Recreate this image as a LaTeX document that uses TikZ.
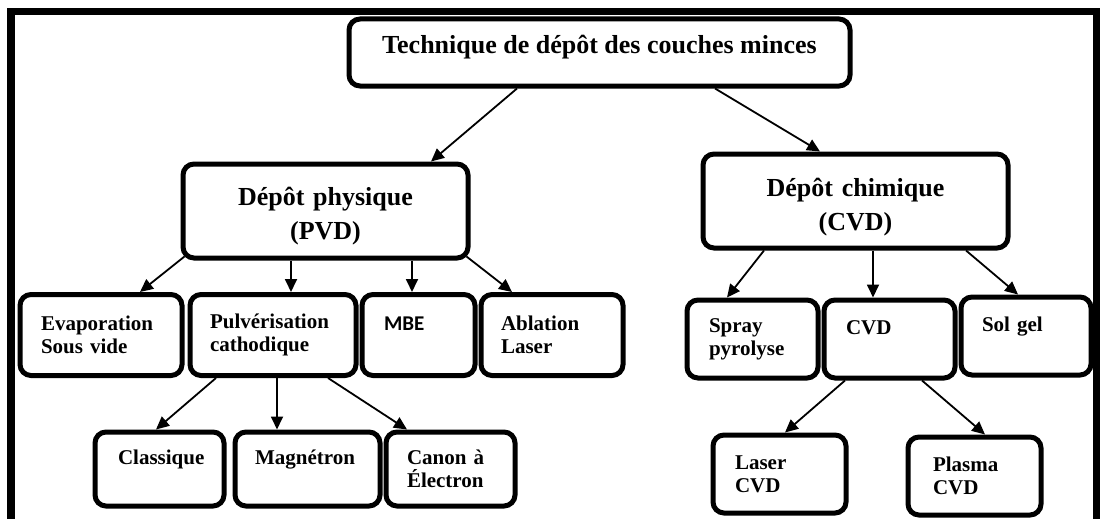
\documentclass[tikz,border=0pt]{standalone}
\usepackage{fontspec}
\setmainfont{Liberation Serif}
\newfontfamily\mbefont{Carlito}
\usetikzlibrary{arrows.meta, positioning}

\begin{document}
\begin{tikzpicture}[x=1pt, y=-1pt,
    >={Triangle[length=13pt, width=12pt]},
    bloc/.style={draw, line width=5pt, rounded corners=11pt, inner sep=0pt},
    tete/.style={bloc, align=center, font=\fontsize{26}{34}\selectfont\bfseries},
    feuille/.style={bloc, align=left, font=\fontsize{21}{23}\selectfont\bfseries},
    fleche/.style={->, line width=1.8pt}]
        \useasboundingbox (0,0) rectangle (1100,519);
        \draw[line width=7.5pt] (11,519) -- (11,11.5) -- (1096.5,11.5) -- (1096.5,519);

        \node[tete, minimum width=501pt, minimum height=67pt, text depth=16pt] (tech) at (599.5, 52.5) {Technique de dépôt des couches minces};
        \node[tete, minimum width=285pt, minimum height=94pt, text width=250pt, text depth=29.5pt] (phys) at (325.5, 211) {Dépôt physique\\(PVD)};
        \node[tete, minimum width=305pt, minimum height=94pt, text width=250pt, text depth=28pt] (chim) at (855.5, 201) {Dépôt chimique\\(CVD)};

        \node[feuille, minimum width=162pt, minimum height=81pt, text width=120pt] (evap) at (101, 335) {Evaporation\\Sous vide};
        \node[feuille, minimum width=166pt, minimum height=81pt, text width=126pt] (pulv) at (273, 335) {Pulvérisation\\cathodique};
        \node[feuille, minimum width=113pt, minimum height=81pt, text width=69pt] (mbe) at (418.5, 335) {{\mbefont MBE}\\\mbox{}};
        \node[feuille, minimum width=142pt, minimum height=81pt, text width=102pt] (abla) at (552, 335) {Ablation\\Laser};

        \node[feuille, minimum width=129pt, minimum height=74pt, text width=83pt] (clas) at (159.5, 469) {Classique\\\mbox{}};
        \node[feuille, minimum width=145pt, minimum height=74pt, text width=105pt] (magn) at (307.5, 469) {Magnétron\\\mbox{}};
        \node[feuille, minimum width=129pt, minimum height=74pt, text width=87pt] (canon) at (450.5, 469) {Canon à\\Électron};

        \node[feuille, minimum width=131pt, minimum height=78pt, text width=87pt] (spray) at (752.5, 339) {Spray\\pyrolyse};
        \node[feuille, minimum width=131pt, minimum height=78pt, text width=87pt] (cvd) at (889.5, 339) {CVD\\\mbox{}};
        \node[feuille, minimum width=130pt, minimum height=78pt, text width=88pt] (solgel) at (1026, 336) {Sol gel\\\mbox{}};

        \node[feuille, minimum width=133pt, minimum height=78pt, text width=89pt] (lasercvd) at (779.5, 474) {Laser\\CVD};
        \node[feuille, minimum width=133pt, minimum height=78pt, text width=83pt] (plasmacvd) at (974.5, 476) {Plasma\\CVD};

        \draw[fleche] ([xshift=-82.5pt]tech.south) to ([xshift=105.5pt]phys.north);
        \draw[fleche] ([xshift=115.5pt]tech.south) to ([xshift=-35.5pt]chim.north);

        \draw[fleche] ([shift={(4pt,4pt)}]phys.south west) to ([xshift=39pt]evap.north);
        \draw[fleche] ([xshift=-34.5pt]phys.south) to ([xshift=18pt]pulv.north);
        \draw[fleche] ([xshift=86.5pt]phys.south) to ([xshift=-6.5pt]mbe.north);
        \draw[fleche] ([shift={(-4pt,4pt)}]phys.south east) to ([xshift=-40pt]abla.north);

        \draw[fleche] ([xshift=-57pt]pulv.south) to ([xshift=-3.5pt]clas.north);
        \draw[fleche] ([xshift=4pt]pulv.south) to ([xshift=-30.5pt]magn.north);
        \draw[fleche] ([xshift=55pt]pulv.south) to ([xshift=-43.5pt]canon.north);

        \draw[fleche] ([xshift=-91.5pt]chim.south) to ([xshift=-25.5pt]spray.north);
        \draw[fleche] ([xshift=17.5pt]chim.south) to ([xshift=-16.5pt]cvd.north);
        \draw[fleche] ([xshift=110.5pt]chim.south) to ([xshift=-8pt]solgel.north);

        \draw[fleche] ([xshift=-44.5pt]cvd.south) to ([xshift=5.5pt]lasercvd.north);
        \draw[fleche] ([xshift=32.5pt]cvd.south) to ([xshift=10.5pt]plasmacvd.north);
    \end{tikzpicture}
\end{document}
